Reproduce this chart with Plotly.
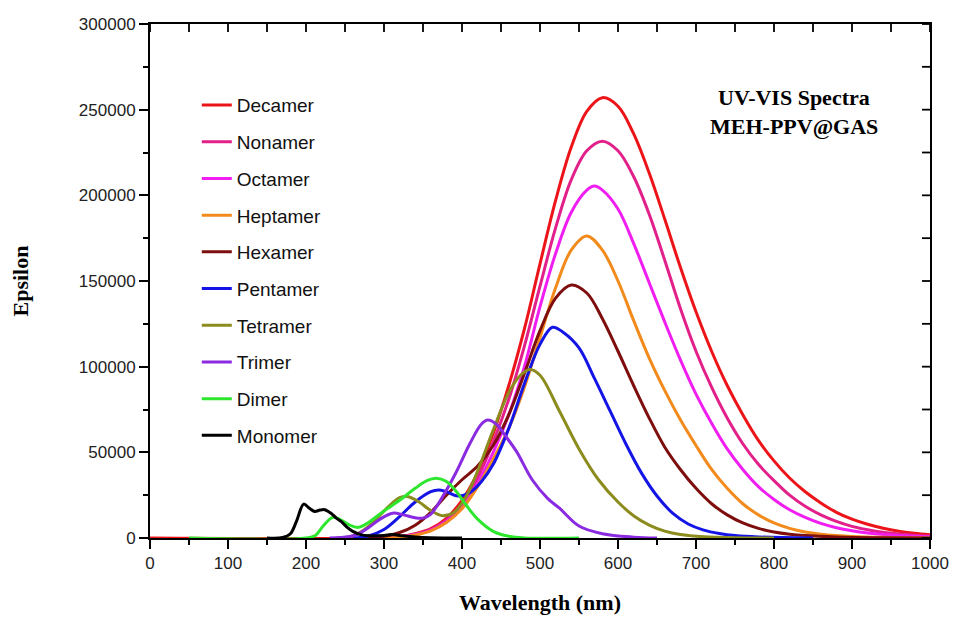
import plotly.graph_objects as go

# ---------------- data ----------------
names = ["Decamer", "Nonamer", "Octamer", "Heptamer", "Hexamer",
         "Pentamer", "Tetramer", "Trimer", "Dimer", "Monomer"]
colors = ["#EC1418", "#E2208A", "#F01EF0", "#F28A1C", "#7E0E0E",
          "#1414E6", "#8C8C1E", "#8A2BE2", "#2EE62E", "#000000"]

decamer_x = [0, 300, 320, 340, 360, 380, 400, 420, 440, 460, 480, 500, 520, 540, 560, 580, 600,
             620, 640, 660, 680, 700, 720, 740, 760, 780, 800, 820, 840, 860, 880, 900, 920, 940,
             960, 980, 1000]
decamer_y = [0, 0, 700, 2500, 5500, 11500, 22000, 38000, 61000, 89000, 122000, 160000, 197000,
             228000, 249000, 257000, 252000, 236000, 213000, 186000, 158000, 132000, 109000, 89000,
             72000, 57000, 45000, 35000, 27000, 20500, 15000, 11000, 8000, 5700, 4000, 2800, 1900]

nonamer_x = [300, 320, 340, 360, 380, 400, 420, 440, 460, 480, 500, 520, 540, 560, 580, 600, 620,
             640, 660, 680, 700, 720, 740, 760, 780, 800, 820, 840, 860, 880, 900, 920, 940, 960,
             980, 1000]
nonamer_y = [0, 600, 2200, 5000, 10500, 20000, 35000, 56000, 81000, 112000, 147000, 181000, 209000,
             226000, 231600, 226000, 211000, 189000, 162000, 134000, 109000, 88000, 70000, 55000,
             43000, 33500, 25000, 18500, 13500, 9700, 6800, 4800, 3300, 2300, 1600, 1100]

octamer_x = [300, 320, 340, 360, 380, 400, 420, 440, 460, 480, 500, 520, 540, 560, 570, 580, 600,
             620, 640, 660, 680, 700, 720, 740, 760, 780, 800, 820, 840, 860, 880, 900, 920, 940,
             960, 980, 1000]
octamer_y = [0, 500, 2000, 4500, 9500, 18000, 32000, 50000, 72000, 100000, 135000, 166000, 190000,
             203000, 205400, 203000, 192000, 172000, 149000, 126000, 104000, 84000, 67000, 52000,
             40000, 30000, 22500, 16500, 12000, 8500, 6000, 4200, 2900, 2000, 1400, 1000, 700]

heptamer_x = [300, 320, 340, 360, 380, 400, 420, 440, 460, 480, 500, 520, 540, 560, 580, 600, 620,
              640, 660, 680, 700, 720, 740, 760, 780, 800, 820, 840, 860, 880, 900, 940, 1000]
heptamer_y = [0, 500, 1800, 4200, 9000, 17000, 30000, 46000, 64000, 88000, 117000, 146000, 168000,
              176300, 168000, 150000, 127000, 105000, 86000, 69000, 54000, 40000, 29000, 20000,
              13500, 8800, 5600, 3500, 2200, 1400, 900, 400, 100]

hexamer_x = [280, 300, 320, 340, 360, 380, 400, 420, 440, 460, 480, 500, 520, 540, 560, 580, 600,
             620, 640, 660, 680, 700, 720, 740, 760, 780, 800, 820, 840, 880, 940, 1000]
hexamer_y = [0, 1000, 3200, 7500, 15000, 25000, 34000, 42000, 54000, 72000, 96000, 121000, 140000,
             147700, 143000, 128000, 109000, 89000, 70000, 53000, 40000, 29000, 20000, 13500, 8800,
             5600, 3500, 2200, 1400, 600, 150, 0]

pentamer_x = [260, 280, 300, 320, 340, 360, 370, 380, 395, 410, 425, 440, 460, 480, 500, 516, 530,
              550, 570, 590, 610, 630, 650, 670, 690, 710, 730, 750, 780, 850]
pentamer_y = [0, 1200, 5000, 12500, 21000, 27000, 28000, 27000, 24500, 26500, 33000, 43000, 64000,
              90000, 113000, 123000, 120000, 111000, 93000, 74000, 55000, 38000, 24500, 14500, 8200,
              4600, 2600, 1400, 600, 0]

tetramer_x = [240, 260, 275, 290, 305, 320, 330, 345, 360, 375, 390, 405, 420, 440, 460, 475, 487,
              500, 525, 550, 575, 600, 620, 640, 660, 680, 710, 750, 800]
tetramer_y = [0, 1200, 5000, 11000, 18000, 23500, 24200, 21000, 16000, 13000, 15000, 24000, 39000,
              63000, 85000, 95000, 98400, 95000, 74000, 52000, 34000, 21000, 13000, 7500, 4000,
              2000, 700, 100, 0]

trimer_x = [230, 255, 265, 280, 295, 311, 325, 340, 350, 360, 375, 393, 410, 425, 433, 445, 455, 470,
            490, 510, 525, 550, 580, 620, 650]
trimer_y = [0, 800, 1900, 6000, 11000, 14500, 13500, 11800, 11600, 14000, 24000, 38800, 55000, 66500,
            68800, 66000, 60000, 50400, 34000, 23000, 17400, 7000, 2500, 500, 0]

dimer_x = [50, 200, 212, 222, 234, 245, 256, 267, 280, 299, 320, 340, 355, 367, 380, 393, 405, 420,
           440, 460, 480, 550]
dimer_y = [0, 0, 1500, 7000, 12000, 10500, 7500, 6200, 9000, 15500, 22000, 29000, 33500, 34900,
           33000, 27000, 19400, 11000, 3900, 1000, 0, 0]

monomer_x = [150, 170, 180, 188, 197, 204, 211, 218, 224, 232, 239, 245, 252, 260, 270, 280, 300,
             310, 320, 340, 360, 400]
monomer_y = [0, 300, 2500, 10000, 19800, 17500, 15500, 16300, 16500, 14500, 11600, 9700, 6500, 3900,
             2000, 1300, 1500, 2000, 1500, 600, 200, 0]

series_x = [decamer_x, nonamer_x, octamer_x, heptamer_x, hexamer_x,
            pentamer_x, tetramer_x, trimer_x, dimer_x, monomer_x]
series_y = [decamer_y, nonamer_y, octamer_y, heptamer_y, hexamer_y,
            pentamer_y, tetramer_y, trimer_y, dimer_y, monomer_y]

x_ticks = [0, 100, 200, 300, 400, 500, 600, 700, 800, 900, 1000]
y_ticks = [0, 50000, 100000, 150000, 200000, 250000, 300000]
x_minor_step = 50
y_minor_step = 25000

# ---------------- figure ----------------
fig = go.Figure()
for name, col, xs, ys in zip(names, colors, series_x, series_y):
    fig.add_trace(go.Scatter(
        x=xs, y=ys, mode="lines", name=name, legendgroup=name,
        line=dict(color=col, width=3, shape="spline", smoothing=1.0),
    ))

tick_font = dict(family="Liberation Sans, Arial, sans-serif", size=17, color="#222222")
title_font = dict(family="Liberation Serif, Times New Roman, serif", size=22, color="#000000")

# inward-pointing frame ticks on the top and right edges (derived from the tick arrays)
PLOT_W, PLOT_H = 961 - 150 - 30, 623 - 24 - 83
inner_len = 8
top_vals = list(range(x_ticks[0], x_ticks[-1] + 1, x_minor_step))
right_vals = list(range(y_ticks[0], y_ticks[-1] + 1, y_minor_step))
frame_shapes = []
for v in top_vals:
    frame_shapes.append(dict(type="line", xref="x", yref="paper", x0=v, x1=v,
                             y0=1, y1=1 - inner_len / PLOT_H,
                             line=dict(color="black", width=1.8), layer="above"))
for v in right_vals:
    frame_shapes.append(dict(type="line", xref="paper", yref="y", x0=1, x1=1 - inner_len / PLOT_W,
                             y0=v, y1=v,
                             line=dict(color="black", width=1.8), layer="above"))

fig.update_layout(
    width=961, height=623,
    margin=dict(l=150, r=30, t=24, b=83),
    paper_bgcolor="white", plot_bgcolor="white",
    showlegend=True,
    legend=dict(
        x=0.06, y=0.879, xanchor="left", yanchor="top",
        bgcolor="rgba(0,0,0,0)", borderwidth=0,
        font=dict(family="Liberation Sans, Arial, sans-serif", size=19, color="#111111"),
        tracegroupgap=9, traceorder="grouped",
    ),
    xaxis=dict(
        range=[0, 1000], tickvals=x_ticks, ticks="outside", ticklen=9, tickwidth=2,
        tickcolor="black", showline=True, linewidth=2, linecolor="black", mirror=True,
        showgrid=False, zeroline=False, tickfont=tick_font, layer="below traces",
        minor=dict(dtick=x_minor_step, tick0=0, ticks="outside", ticklen=5, tickwidth=1.5,
                   tickcolor="black", showgrid=False),
        title=dict(text="<b>Wavelength (nm)</b>", font=title_font, standoff=22),
    ),
    yaxis=dict(
        range=[0, 300000], tickvals=y_ticks, ticks="outside", ticklen=9, tickwidth=2,
        tickcolor="black", showline=True, linewidth=2, linecolor="black", mirror=True,
        showgrid=False, zeroline=False, tickfont=tick_font, layer="below traces",
        tickformat="d",
        minor=dict(dtick=y_minor_step, tick0=0, ticks="outside", ticklen=5, tickwidth=1.5,
                   tickcolor="black", showgrid=False),
        title=dict(text="<b>Epsilon</b>", font=title_font, standoff=44),
    ),
    shapes=frame_shapes,
    annotations=[
        dict(text="<b>UV-VIS Spectra</b>", xref="paper", yref="paper", x=0.826, y=0.857,
             showarrow=False, xanchor="center", yanchor="middle", font=title_font),
        dict(text="<b>MEH-PPV@GAS</b>", xref="paper", yref="paper", x=0.826, y=0.800,
             showarrow=False, xanchor="center", yanchor="middle", font=title_font),
    ],
)

fig.write_html("out.html")
